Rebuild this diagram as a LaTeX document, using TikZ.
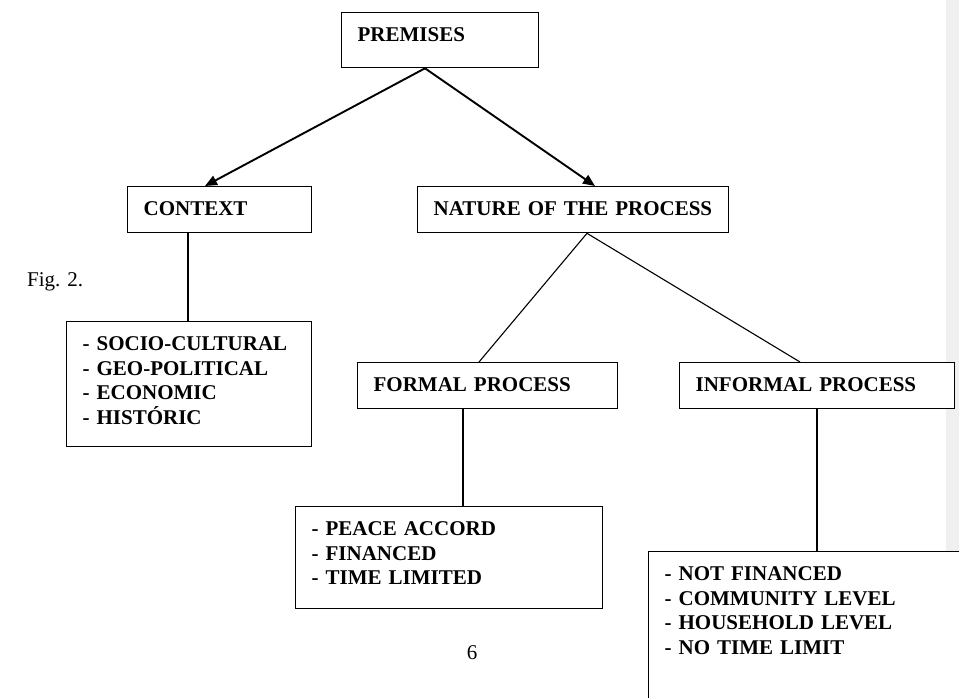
\documentclass[tikz,border=0pt]{standalone}
\usepackage{fontspec}
\setmainfont{Liberation Serif}
\usetikzlibrary{calc, arrows.meta, positioning}

\begin{document}
\begin{tikzpicture}[x=1pt, y=-1pt, >=latex, font=\fontsize{21}{24.5}\selectfont\bfseries]
		\tikzstyle{box} = [draw=black, line width=1.3pt, rectangle, anchor=north west, fill=white, align=left, inner xsep=16pt, inner ysep=14pt, text height=15pt]
		\tikzstyle{plain} = [font=\fontsize{21}{24.5}\selectfont, inner sep=0pt]
		\tikzstyle{arrow} = [line width=1.9pt, -{Triangle[length=12pt, width=10pt]}]
		\tikzstyle{link} = [line width=1.1pt]
		
		\useasboundingbox (0,0) rectangle (959,698);
		\clip (0,0) rectangle (959,698);
		\fill[black!6] (946,0) rectangle (959,698);
		
		\node[box, text width=165pt, text depth=12pt]	at (341,12)		(prem)		{PREMISES};
		
		\node[box, text width=152pt, text depth=3pt]	at (127,186)	(ctx)		{CONTEXT};
		\node[box, text width=279pt, text depth=3pt]	at (417,186)	(nat)		{\mbox{NATURE OF THE PROCESS}};
		
		\node[box, text width=213pt, text depth=82pt]	at (66,321)		(ctxlist)	{- SOCIO-CULTURAL\\- GEO-POLITICAL\\- ECONOMIC\\- HISTÓRIC};
		
		\node[box, text width=228pt, text depth=3pt]	at (357,362)	(formal)	{FORMAL PROCESS};
		\node[box, text width=243pt, text depth=3pt]	at (679,362)	(informal)	{INFORMAL PROCESS};
		
		\node[box, text width=275pt, text depth=59pt]	at (295,506)	(formlist)	{- PEACE ACCORD\\- FINANCED\\- TIME LIMITED};
		\node[box, text width=400pt, text depth=200pt]	at (648,551)	(inflist)	{- NOT FINANCED\\- COMMUNITY LEVEL\\- HOUSEHOLD LEVEL\\- NO TIME LIMIT};
		
		\node[plain, anchor=base west]	at (27,286)		(fig)	{Fig. 2.};
		\node[plain]					at (472,653)	(page)	{6};
		
		\coordinate (apex) at ($(prem.south west)+(84,0)$);
		\coordinate (ctxin) at ($(ctx.north west)+(78,0)$);
		\coordinate (natin) at ($(nat.north west)+(178,0)$);
		\coordinate (ctxout) at ($(ctx.south west)+(61,0)$);
		\coordinate (natout) at ($(nat.south west)+(170,0)$);
		\coordinate (formin) at ($(formal.north west)+(122,0)$);
		\coordinate (infin) at ($(informal.north west)+(121,0)$);
		\coordinate (formout) at ($(formal.south west)+(106,0)$);
		\coordinate (infout) at ($(informal.south west)+(138,0)$);
		
		\draw [arrow] (apex) -- (ctxin);
		\draw [arrow] (apex) -- (natin);
		\draw [link] (ctxout) -- (ctxout |- ctxlist.north);
		\draw [link] (natout) -- (formin);
		\draw [link] (natout) -- (infin);
		\draw [link] (formout) -- (formout |- formlist.north);
		\draw [link] (infout) -- (infout |- inflist.north);
	\end{tikzpicture}
\end{document}
